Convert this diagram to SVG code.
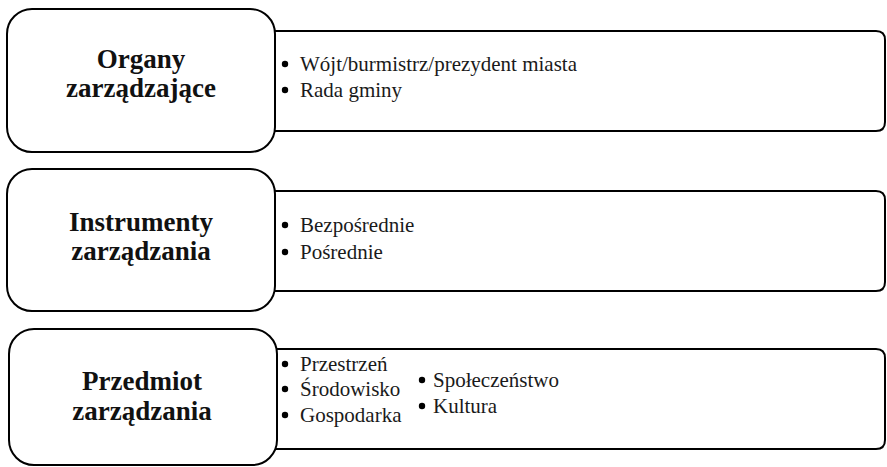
<svg xmlns="http://www.w3.org/2000/svg" width="887" height="467" viewBox="0 0 887 467">
<style>
.box{fill:#fff;stroke:#000;stroke-width:2}
.title{font-family:"Liberation Serif","Times New Roman",serif;font-weight:bold;font-size:27px;fill:#111;text-anchor:middle}
.item{font-family:"Liberation Serif","Times New Roman",serif;font-size:21px;fill:#1a1a1a}
.dot{fill:#000}
</style>
<rect width="887" height="467" fill="#fff"/>
<g id="connectors"></g>
<g id="list1">
<path class="box" d="M250 31 H876 Q885 31 885 40 V122 Q885 131 876 131 H250 Z"/>
<circle class="dot" cx="285" cy="64" r="3.2"/>
<text class="item" x="300" y="71">Wójt/burmistrz/prezydent miasta</text>
<circle class="dot" cx="285" cy="90" r="3.2"/>
<text class="item" x="300" y="97">Rada gminy</text>
</g>
<g id="node1">
<rect class="box" x="7" y="9" width="268" height="143" rx="25" ry="25"/>
<text class="title" x="141" y="68">Organy</text>
<text class="title" x="141" y="97">zarządzające</text>
</g>
<g id="list2">
<path class="box" d="M250 191 H876 Q885 191 885 200 V282 Q885 291 876 291 H250 Z"/>
<circle class="dot" cx="285" cy="225" r="3.2"/>
<text class="item" x="300" y="232">Bezpośrednie</text>
<circle class="dot" cx="285" cy="252" r="3.2"/>
<text class="item" x="300" y="259">Pośrednie</text>
</g>
<g id="node2">
<rect class="box" x="7" y="169" width="268" height="142" rx="25" ry="25"/>
<text class="title" x="141" y="231">Instrumenty</text>
<text class="title" x="141" y="260">zarządzania</text>
</g>
<g id="list3">
<path class="box" d="M250 349 H876 Q885 349 885 358 V440 Q885 449 876 449 H250 Z"/>
<circle class="dot" cx="285" cy="364" r="3.2"/>
<text class="item" x="300" y="371">Przestrzeń</text>
<circle class="dot" cx="285" cy="389" r="3.2"/>
<text class="item" x="300" y="396">Środowisko</text>
<circle class="dot" cx="285" cy="415" r="3.2"/>
<text class="item" x="300" y="422">Gospodarka</text>
<circle class="dot" cx="422" cy="380" r="3.2"/>
<text class="item" x="433" y="387">Społeczeństwo</text>
<circle class="dot" cx="422" cy="406" r="3.2"/>
<text class="item" x="433" y="413">Kultura</text>
</g>
<g id="node3">
<rect class="box" x="9" y="329" width="268" height="136" rx="25" ry="25"/>
<text class="title" x="142" y="390">Przedmiot</text>
<text class="title" x="142" y="420">zarządzania</text>
</g>
</svg>
